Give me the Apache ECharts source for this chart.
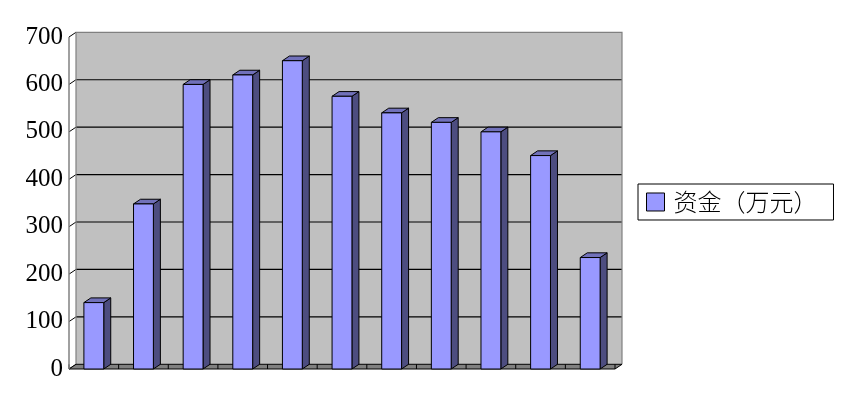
<!DOCTYPE html>
<html><head><meta charset="utf-8">
<script src="https://cdn.jsdelivr.net/npm/echarts@6/dist/echarts.min.js"></script>
<style>html,body{margin:0;padding:0;background:#fff}#c{width:842px;height:406px}</style>
</head><body><div id="c"></div>
<script>
const categories = ['1','2','3','4','5','6','7','8','9','10','11'];
const values = [140, 348, 600, 620, 650, 575, 540, 520, 500, 450, 235];
const yTicks = [0, 100, 200, 300, 400, 500, 600, 700];
const seriesName = '资金（万元）';

const DX = 7, DY = -4.7;
const chart = echarts.init(document.getElementById('c'));

function wallRender(params, api) {
  const cs = params.coordSys;
  const L = cs.x, R = cs.x + cs.width, T = cs.y, B = cs.y + cs.height;
  const ch = [];
  ch.push({type:'rect', shape:{x:L+DX, y:T+DY, width:cs.width, height:cs.height}, style:{fill:'#C0C0C0', stroke:null}});
  yTicks.forEach(v => {
    const y = api.coord([0, v])[1];
    if (v > 0 && v < 700) ch.push({type:'line', shape:{x1:L+DX, y1:y+DY, x2:R+DX, y2:y+DY}, style:{stroke:'#000', lineWidth:1.2}});
    ch.push({type:'line', shape:{x1:L, y1:y, x2:L+DX, y2:y+DY}, style:{stroke:'#000', lineWidth:1}});
  });
  ch.push({type:'polyline', shape:{points:[[L+DX, B+DY],[L+DX, T+DY],[R+DX, T+DY],[R+DX, B+DY]]}, style:{stroke:'#808080', lineWidth:1.2, fill:null}});
  ch.push({type:'polygon', shape:{points:[[L,B],[R,B],[R+DX,B+DY],[L+DX,B+DY]]}, style:{fill:'#808080', stroke:'#000', lineWidth:1}});
  const bw = api.size([1,0])[0];
  for (let i = 0; i <= categories.length; i++) {
    const x = api.coord([i,0])[0] - bw/2;
    ch.push({type:'line', shape:{x1:x, y1:B, x2:x, y2:B+DY}, style:{stroke:'#000', lineWidth:1}});
  }
  ch.push({type:'line', shape:{x1:L, y1:T, x2:L, y2:B}, style:{stroke:'#808080', lineWidth:1.5}});
  return {type:'group', children:ch};
}

function barRender(params, api) {
  const i = api.value(0), v = api.value(1);
  const top = api.coord([i, v]);
  const bot = api.coord([i, 0]);
  const bw = api.size([1,0])[0] * 0.4;
  const x = top[0] - bw/2, y = top[1], b = bot[1];
  return {type:'group', children:[
    {type:'polygon', shape:{points:[[x+bw,y],[x+bw+DX,y+DY],[x+bw+DX,b+DY],[x+bw,b]]}, style:{fill:'#4D4D80', stroke:'#000', lineWidth:1}},
    {type:'polygon', shape:{points:[[x,y],[x+DX,y+DY],[x+bw+DX,y+DY],[x+bw,y]]}, style:{fill:'#7171BA', stroke:'#000', lineWidth:1}},
    {type:'rect', shape:{x:x, y:y, width:bw, height:b-y}, style:{fill:'#9999FF', stroke:'#000', lineWidth:1}}
  ]};
}

chart.setOption({
  animation:false,
  grid:{left:69, right:227, top:37, bottom:37},
  legend:{
    data:[seriesName], left:638, top:184,
    orient:'vertical',
    padding:[6, 16, 6, 8],
    borderColor:'#000', borderWidth:1,
    itemWidth:18, itemHeight:18,
    icon:'rect',
    itemStyle:{borderColor:'#000', borderWidth:1},
    textStyle:{fontFamily:'"Noto Sans CJK SC", sans-serif', fontWeight:300, fontSize:24, color:'#000', padding:[0,0,0,4]}
  },
  xAxis:{type:'category', data:categories, axisLine:{show:false}, axisTick:{show:false}, axisLabel:{show:false}, splitLine:{show:false}},
  yAxis:{type:'value', min:0, max:700, interval:100,
    axisLine:{show:false}, axisTick:{show:false}, splitLine:{show:false},
    axisLabel:{fontFamily:'"Liberation Serif", "DejaVu Serif", serif', fontSize:25, color:'#000', margin:6, padding:[6,0,0,0]}},
  series:[
    {type:'custom', name:'wall', silent:true, z:1, renderItem:wallRender, data:[[0,0]]},
    {type:'custom', name:seriesName, z:2, renderItem:barRender, itemStyle:{color:'#9999FF'},
     encode:{x:0, y:1}, data:values.map((v,i)=>[i,v])}
  ]
});
</script></body></html>
